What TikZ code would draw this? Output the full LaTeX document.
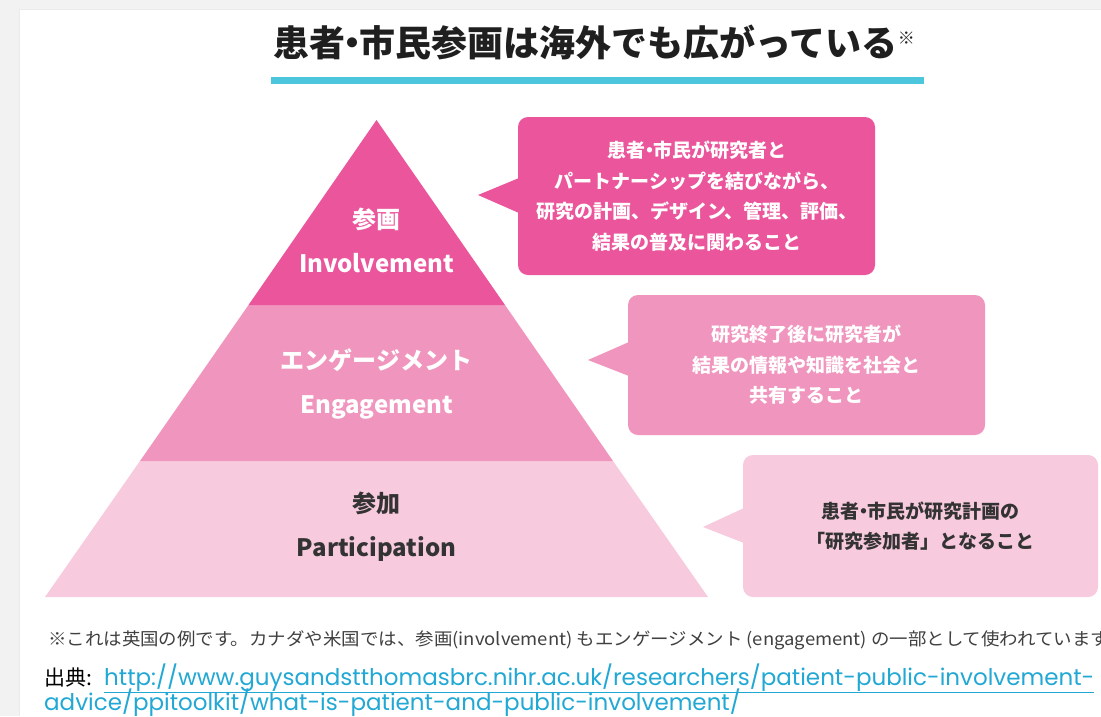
\documentclass[tikz,border=0pt]{standalone}
\usepackage{fontspec}
\usepackage{graphicx}
\newfontfamily\jp{Noto Sans CJK JP}
\newfontfamily\myurlfont{Poppins}
\definecolor{pinkA}{HTML}{EB559B}
\definecolor{pinkB}{HTML}{F096BE}
\definecolor{pinkC}{HTML}{F8CADD}
\definecolor{cyanline}{HTML}{4BC6DC}
\definecolor{urlblue}{HTML}{22A8D4}
\definecolor{darktext}{HTML}{333333}
\definecolor{frame}{HTML}{F2F2F2}
\newcommand{\ndot}{\kern-.3em・\kern-.3em}
\tikzset{
  lbl/.style={align=center, inner sep=0pt, font={\jp\bfseries\fontsize{24}{44}\selectfont}},
  boxtext/.style={align=center, inner sep=0pt, font={\jp\bfseries\fontsize{19}{30.5}\selectfont}},
  urltext/.style={anchor=base west, inner sep=0pt, font={\myurlfont\fontsize{23}{23}\selectfont}, text=urlblue}
}
\begin{document}
\begin{tikzpicture}[x=1pt,y=-1pt]
\useasboundingbox (0,0) rectangle (1101,716);
% frame
\fill[frame] (0,0) rectangle (1101,716);
\fill[white] (19,9) rectangle (1101,716);
\draw[black!8, line width=1pt] (19,716) -- (19,9) -- (1101,9);
% title
\node[anchor=west, inner sep=0pt, font={\jp\bfseries\fontsize{36}{36}\selectfont}, text=black!88] (title) at (273,42)
  {患者\ndot 市民参画は海外でも広がっている\raisebox{12pt}{\fontsize{17}{17}\selectfont\mdseries ※}};
\fill[cyanline] (271,77) rectangle (924,84);
% pyramid
\fill[pinkC] (140,461) -- (613,461) -- (708,597) -- (45,597) -- cycle;
\fill[pinkB] (248.5,305) -- (505,305) -- (613,461) -- (140,461) -- cycle;
\fill[pinkA] (376.5,120) -- (505,305) -- (248.5,305) -- cycle;
\node[lbl, text=white] (l1) at (376.5,240.5) {参画\\Involvement};
\node[lbl, text=white] (l2) at (376.5,384) {エンゲージメント\\Engagement};
\node[lbl, text=darktext] (l3) at (376.5,527) {参加\\Participation};
% callouts
\fill[pinkA, rounded corners=10pt] (518,117) rectangle (875,275);
\fill[pinkA] (519,178) -- (478,195) -- (519,213) -- cycle;
\node[boxtext, text=white] (b1) at (697,196)
  {患者\ndot 市民が研究者と\\パートナーシップを結びながら、\\研究の計画、デザイン、管理、評価、\\結果の普及に関わること};
\fill[pinkB, rounded corners=10pt] (628,295) rectangle (985,435);
\fill[pinkB] (629,342) -- (588,360) -- (629,376) -- cycle;
\node[boxtext, text=white] (b2) at (806.5,365)
  {研究終了後に研究者が\\結果の情報や知識を社会と\\共有すること};
\fill[pinkC, rounded corners=10pt] (743,455) rectangle (1098,597);
\fill[pinkC] (744,508) -- (703,527) -- (744,543) -- cycle;
\node[boxtext, text=darktext] (b3) at (920.5,526)
  {患者\ndot 市民が研究計画の\\「研究参加者」となること};
% footnote
\node[anchor=west, inner sep=0pt, font={\jp\fontsize{17.5}{17.5}\selectfont}, text=black!75] (fn) at (48,640)
  {\scalebox{1.055}[1]{※これは英国の例です。カナダや米国では、参画(involvement) もエンゲージメント (engagement) の一部として使われています}};
\node[anchor=base west, inner sep=0pt, font={\jp\fontsize{21}{21}\selectfont}, text=black] (src) at (44,685) {出典:};
\node[urltext] (u1) at (104,685)
  {\underline{http://www.guysandstthomasbrc.nihr.ac.uk/researchers/patient-public-involvement-}};
\node[urltext] (u2) at (44,710)
  {\underline{advice/ppitoolkit/what-is-patient-and-public-involvement/}};
\end{tikzpicture}
\end{document}
